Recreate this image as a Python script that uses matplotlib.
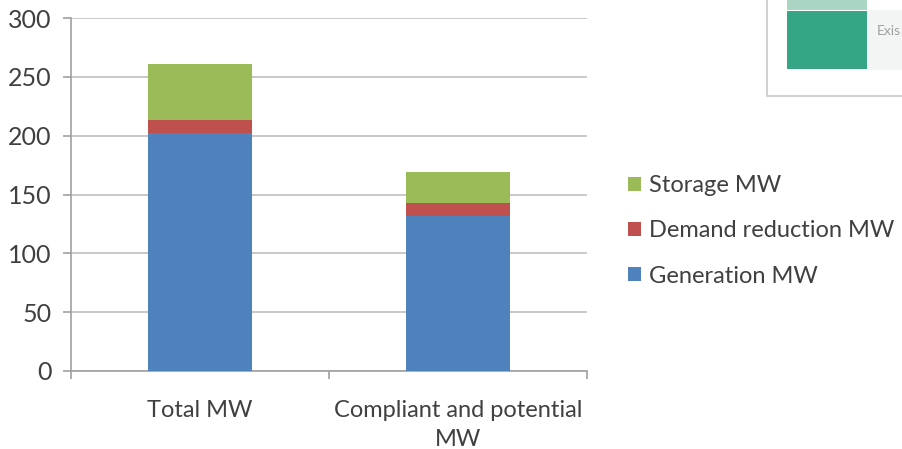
import matplotlib
matplotlib.use("Agg")
import matplotlib.pyplot as plt
from matplotlib.patches import Rectangle
import numpy as np

plt.rcParams['font.family'] = ['Lato', 'DejaVu Sans']

categories = ["Total MW", "Compliant and potential\nMW"]
generation = [202, 132]
demand_reduction = [11, 11]
storage = [48, 26]

series = [
    ("Generation MW", generation, "#4F81BD"),
    ("Demand reduction MW", demand_reduction, "#C0504D"),
    ("Storage MW", storage, "#9BBB59"),
]

text_col = "#404040"
grid_col = "#BFBFBF"

fig = plt.figure(figsize=(9.02, 4.49), dpi=100)
ax = fig.add_axes([71 / 902, 1 - 371 / 449, 516 / 902, 353 / 449])

x = np.arange(len(categories))
bottom = np.zeros(len(categories))
handles = []
for name, vals, col in series:
    h = ax.bar(x, vals, width=0.4, bottom=bottom, color=col, label=name, zorder=3)
    handles.append(h)
    bottom += np.array(vals)

ax.set_xlim(-0.5, 1.5)
ax.set_ylim(0, 300)
ax.set_yticks(range(0, 301, 50))
ax.yaxis.grid(True, color=grid_col, linewidth=1.2, zorder=0)
ax.set_axisbelow(True)
for s in ("top", "right"):
    ax.spines[s].set_visible(False)
for s in ("left", "bottom"):
    ax.spines[s].set_color("#A0A0A0")
    ax.spines[s].set_linewidth(1.2)

ax.set_xticks([-0.5, 0.5, 1.5], minor=False)
ax.set_xticklabels([])
ax.set_xticks(x, minor=True)
ax.set_xticklabels(categories, minor=True, fontsize=17, color=text_col,
                   linespacing=1.45)
ax.tick_params(axis="x", which="major", length=6, color="#A0A0A0", width=1.2)
ax.tick_params(axis="x", which="minor", length=0, pad=21)
ax.tick_params(axis="y", length=6, color="#A0A0A0", width=1.2,
               labelsize=18, labelcolor=text_col, pad=8)

leg = fig.legend(handles[::-1], [s[0] for s in series][::-1],
                 loc="upper left", bbox_to_anchor=(628 / 902, 1 - 175 / 449),
                 frameon=False, fontsize=17, handlelength=0.55,
                 handleheight=0.55, handletextpad=0.35, labelspacing=1.03,
                 borderaxespad=0, borderpad=0)
for t in leg.get_texts():
    t.set_color(text_col)

# small embedded panel in the top-right corner
def fig_rect(x0, y0, w, h, **kw):
    fig.patches.append(Rectangle((x0 / 902, 1 - (y0 + h) / 449), w / 902, h / 449,
                                 transform=fig.transFigure, **kw))

fig_rect(767, -2, 140, 98, facecolor="white", edgecolor="#C8C8C8", linewidth=1.2)
fig_rect(867, 10, 40, 60, facecolor="#F3F4F4", edgecolor="none")
fig_rect(787, -2, 80, 12, facecolor="#A9D5C2", edgecolor="none")
fig_rect(787, 11, 80, 58, facecolor="#35A585", edgecolor="none")
fig.text(877 / 902, 1 - 31 / 449, "Exis", fontsize=10, color="#A0A0A0",
         va="center", ha="left")

fig.savefig("out.png", dpi=100)
